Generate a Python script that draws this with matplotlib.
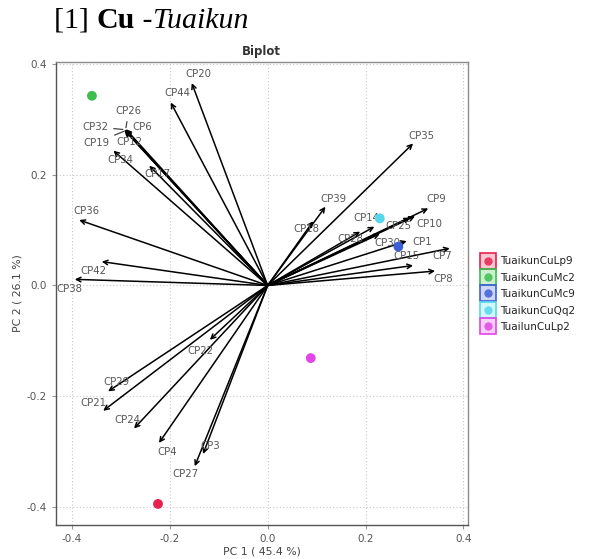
import matplotlib
matplotlib.use("Agg")
import matplotlib.pyplot as plt
from matplotlib.lines import Line2D

# ---------------- data ----------------
var_names = ["CP20", "CP44", "CP26", "CP6", "CP32", "CP19", "CP12", "CP34", "CP17",
             "CP36", "CP42", "CP38", "CP35", "CP39", "CP18", "CP9", "CP10", "CP25",
             "CP14", "CP28", "CP30", "CP1", "CP7", "CP15", "CP8", "CP22", "CP29",
             "CP21", "CP24", "CP4", "CP3", "CP27"]
var_pc1 = [-0.155, -0.198, -0.290, -0.292, -0.293, -0.291, -0.291, -0.315, -0.242,
           -0.385, -0.339, -0.394, 0.297, 0.118, 0.093, 0.328, 0.301, 0.291,
           0.218, 0.189, 0.229, 0.284, 0.372, 0.297, 0.342, -0.118, -0.326,
           -0.336, -0.273, -0.222, -0.132, -0.149]
var_pc2 = [0.365, 0.330, 0.282, 0.280, 0.281, 0.279, 0.280, 0.243, 0.216,
           0.118, 0.043, 0.011, 0.256, 0.142, 0.116, 0.139, 0.125, 0.122,
           0.106, 0.097, 0.093, 0.080, 0.067, 0.036, 0.026, -0.098, -0.191,
           -0.226, -0.258, -0.284, -0.304, -0.326]

sample_names = ["TuaikunCuLp9", "TuaikunCuMc2", "TuaikunCuMc9", "TuaikunCuQq2", "TuailunCuLp2"]
sample_pc1 = [-0.224, -0.359, 0.267, 0.229, 0.088]
sample_pc2 = [-0.394, 0.342, 0.070, 0.121, -0.131]

x_ticks = [-0.4, -0.2, 0.0, 0.2, 0.4]
y_ticks = [-0.4, -0.2, 0.0, 0.2, 0.4]

# ---------------- layout / style ----------------
sample_colors = ["#E8204E", "#3DBE4E", "#3F5FD8", "#55D8EC", "#E346E6"]
label_offsets = {  # pixel offsets of labels relative to arrow tips
    "CP20": (7, 9), "CP44": (7, 9), "CP26": (3, 18), "CP6": (18, 3), "CP32": (-29, 3),
    "CP19": (-29, -12), "CP12": (4, -12), "CP34": (7, -9), "CP17": (8, -8),
    "CP36": (7, 9), "CP42": (-8, -9), "CP38": (-5, -10), "CP35": (8, 8),
    "CP39": (8, 8), "CP18": (-7, -8), "CP9": (8, 9), "CP10": (14, -8),
    "CP25": (-12, -8), "CP14": (-8, 9), "CP28": (-10, -7), "CP30": (8, -9),
    "CP1": (15, -1), "CP7": (-8, -8), "CP15": (-7, 9), "CP8": (8, -8),
    "CP22": (-10, -11), "CP29": (8, 9), "CP21": (-10, 8), "CP24": (-7, 9),
    "CP4": (8, -9), "CP3": (7, 8), "CP27": (-9, -8),
}
connector = {"CP26", "CP32", "CP19"}

fig = plt.figure(figsize=(5.9, 5.59), dpi=100)
ax = fig.add_axes([55.7 / 590, 34 / 559, 412 / 590, 463 / 559])

ax.set_xlim(-0.433, 0.4086)
ax.set_ylim(-0.432, 0.403)
ax.set_xticks(x_ticks)
ax.set_yticks(y_ticks)
ax.set_xticklabels([f"{v:.1f}" for v in x_ticks])
ax.set_yticklabels([f"{v:.1f}" for v in y_ticks])
ax.grid(True, linestyle=(0, (1, 2)), color="#c8c8c8", lw=0.8)
ax.set_axisbelow(True)
for s in ax.spines.values():
    s.set_color("#8a8a8a")
    s.set_linewidth(1.0)
ax.spines["left"].set_color("#555555")
ax.spines["bottom"].set_color("#555555")
ax.tick_params(length=3, color="#999999", labelsize=7.5, labelcolor="#555555")

# arrows
for name, x, y in zip(var_names, var_pc1, var_pc2):
    ax.annotate("", xy=(x, y), xytext=(0, 0),
                arrowprops=dict(arrowstyle="->", color="black", lw=1.1,
                                mutation_scale=8, shrinkA=0, shrinkB=0), zorder=3)
for name, x, y in zip(var_names, var_pc1, var_pc2):
    dx, dy = label_offsets[name]
    ap = None
    if name in connector:
        ap = dict(arrowstyle="-", color="#444444", lw=0.9, shrinkA=2, shrinkB=1)
    ax.annotate(name, xy=(x, y), xytext=(dx, dy), textcoords="offset pixels",
                ha="center", va="center", fontsize=7.3, color="#555555",
                arrowprops=ap, zorder=4)

# samples
for name, x, y, c in zip(sample_names, sample_pc1, sample_pc2, sample_colors):
    ax.scatter([x], [y], s=50, color=c, edgecolors="none", zorder=5)

ax.set_title("Biplot", fontsize=8.5, fontweight="bold", color="#333333", pad=5)
ax.set_xlabel("PC 1 ( 45.4 %)", fontsize=7.8, color="#444444", labelpad=2)
ax.set_ylabel("PC 2 ( 26.1 %)", fontsize=7.8, color="#444444", labelpad=3)

# legend
handles = []
for c in sample_colors:
    sq = Line2D([], [], marker="s", ls="none", markersize=11, markerfacecolor=c + "40",
                markeredgecolor=c, markeredgewidth=1.2)
    dot = Line2D([], [], marker="o", ls="none", markersize=6, markerfacecolor=c,
                 markeredgecolor="none", alpha=0.85)
    handles.append((sq, dot))
leg = fig.legend(handles, sample_names, loc="upper left",
                 bbox_to_anchor=(479 / 590, 1 - 252 / 559), frameon=False,
                 fontsize=7.5, handlelength=1.0, handletextpad=0.6,
                 labelspacing=0.62, borderaxespad=0)
for t in leg.get_texts():
    t.set_color("#222222")

# header title with mixed styles
fig.canvas.draw()
r = fig.canvas.get_renderer()
parts = [("[1] ", "normal", "normal"), ("Cu", "bold", "normal"), (" -", "normal", "normal"),
         ("Tuaikun", "normal", "italic")]
xpix = 54
for txt, w, st in parts:
    t = fig.text(xpix / 590, 1 - 21 / 559, txt, family="Liberation Serif", fontsize=21.5,
                 fontweight=w, fontstyle=st, va="center", ha="left", color="black")
    bb = t.get_window_extent(renderer=r)
    xpix += bb.width

fig.savefig("out.png", dpi=100)
